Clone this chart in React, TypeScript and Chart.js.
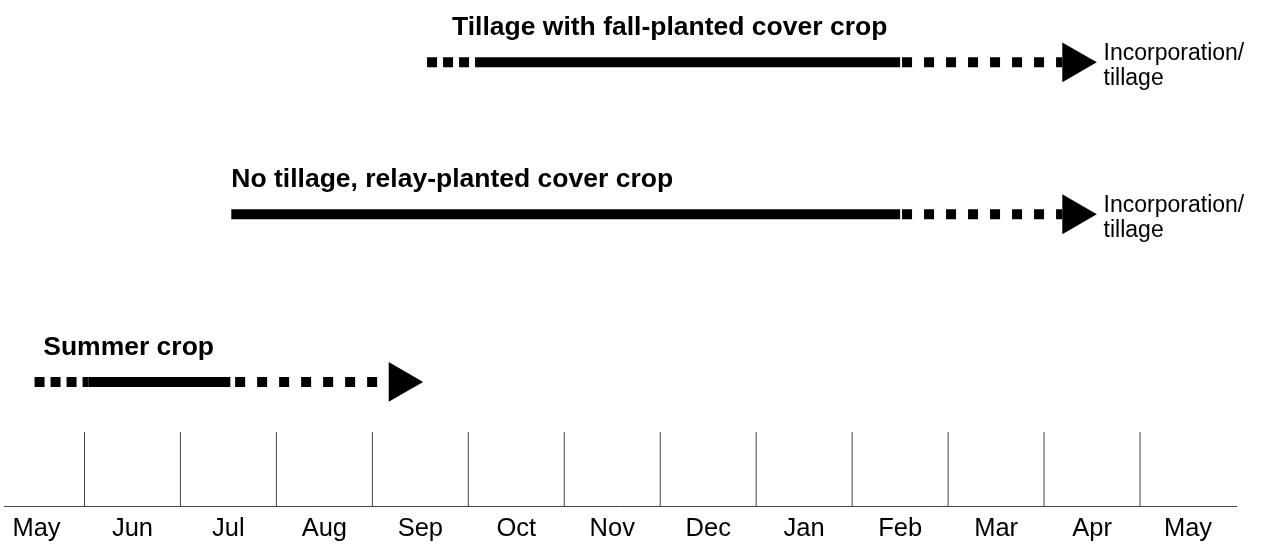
import React, { useEffect, useRef } from 'react';
import { Chart, registerables } from 'chart.js';

Chart.register(...registerables);

// Month labels along the timeline (each label sits in the middle of its month)
const months = ['May', 'Jun', 'Jul', 'Aug', 'Sep', 'Oct', 'Nov', 'Dec', 'Jan', 'Feb', 'Mar', 'Apr', 'May'];
// Month boundaries (months since 1 May) where the vertical tick marks stand
const monthBoundaries = [1, 2, 3, 4, 5, 6, 7, 8, 9, 10, 11, 12];

// Rows of the timeline (bottom to top)
const rowNames = ['Summer crop', 'No tillage, relay-planted cover crop', 'Tillage with fall-planted cover crop'];
const rowLevel = [2.46, 5.77, 8.77];
const titleStart = [0.57, 2.53, 4.83];
// Timing of each phase, in months since 1 May
const leadStart: (number | null)[] = [0.48, null, 4.57];
const solidStart = [1.04, 2.53, 5.09];
const solidEnd = [2.52, 9.5, 9.5];
const trailStart = [2.57, 9.52, 9.52];
const trailEnd = [4.17, 11.19, 11.19];
const arrowCenter = [4.29, 11.31, 11.31];
const endLabel: string[][] = [[], ['Incorporation/', 'tillage'], ['Incorporation/', 'tillage']];
const endLabelStart = [0, 11.62, 11.62];
const tickTop = 1.47;

const FONT = '"Liberation Sans", Arial, Helvetica, sans-serif';

export default function App() {
  const ref = useRef<HTMLCanvasElement | null>(null);

  useEffect(() => {
    if (!ref.current) return;
    const datasets: any[] = [];
    monthBoundaries.forEach((b) => {
      datasets.push({
        data: [{ x: b, y: 0 }, { x: b, y: tickTop }],
        showLine: true,
        borderColor: '#444',
        borderWidth: 1,
        pointRadius: 0,
      });
    });
    rowNames.forEach((_, i) => {
      const y = rowLevel[i];
      const ls = leadStart[i];
      if (ls !== null) {
        datasets.push({
          data: [{ x: ls, y }, { x: solidStart[i], y }],
          showLine: true,
          borderColor: '#000',
          borderWidth: 10,
          borderDash: [10, 6],
          borderCapStyle: 'butt',
          pointRadius: 0,
        });
      }
      datasets.push({
        data: [{ x: solidStart[i], y }, { x: solidEnd[i], y }],
        showLine: true,
        borderColor: '#000',
        borderWidth: 10,
        borderCapStyle: 'butt',
        pointRadius: 0,
      });
      datasets.push({
        data: [{ x: trailStart[i], y }, { x: trailEnd[i], y }],
        showLine: true,
        borderColor: '#000',
        borderWidth: 10,
        borderDash: [10, 12],
        borderCapStyle: 'butt',
        pointRadius: 0,
      });
      datasets.push({
        data: [{ x: arrowCenter[i], y }],
        showLine: false,
        pointStyle: 'triangle',
        pointRotation: 90,
        pointRadius: 23,
        pointBackgroundColor: '#000',
        pointBorderWidth: 0,
        pointBorderColor: '#000',
      });
    });

    const textPlugin = {
      id: 'rowText',
      afterDatasetsDraw(chart: any) {
        const { ctx } = chart;
        const x = chart.scales.x;
        const y = chart.scales.y;
        ctx.save();
        ctx.fillStyle = '#000';
        ctx.textAlign = 'left';
        ctx.textBaseline = 'alphabetic';
        ctx.font = `bold 26.5px ${FONT}`;
        rowNames.forEach((name, i) => {
          ctx.fillText(name, x.getPixelForValue(titleStart[i]), y.getPixelForValue(rowLevel[i]) - 27);
        });
        ctx.font = `23px ${FONT}`;
        endLabel.forEach((lines, i) => {
          lines.forEach((ln, j) => {
            ctx.fillText(ln, x.getPixelForValue(endLabelStart[i]), y.getPixelForValue(rowLevel[i]) - 2 + j * 25);
          });
        });
        ctx.restore();
      },
    };

    const chart = new Chart(ref.current, {
      type: 'scatter',
      data: { datasets },
      plugins: [textPlugin],
      options: {
        animation: false,
        responsive: true,
        maintainAspectRatio: false,
        layout: { autoPadding: false, padding: { left: 4.5, right: 27, top: 0, bottom: 0 } },
        clip: false as any,
        plugins: { legend: { display: false }, tooltip: { enabled: false } },
        scales: {
          x: {
            type: 'linear',
            min: 1 / 6,
            max: 13,
            afterBuildTicks: (scale: any) => {
              scale.ticks = months.map((_, i) => ({ value: i + 0.5 }));
            },
            afterFit: (scale: any) => {
              scale.paddingLeft = 0;
              scale.paddingRight = 0;
              scale.height = 37.5;
            },
            ticks: {
              autoSkip: false,
              maxRotation: 0,
              padding: 7,
              color: '#000',
              font: { family: FONT, size: 25.5 },
              callback: (v: any) => months[Math.round(Number(v) - 0.5)] ?? '',
            },
            grid: { display: false, drawTicks: false, tickLength: 0 },
            border: { display: true, color: '#444', width: 1 },
          },
          y: {
            type: 'linear',
            display: false,
            min: 0,
            max: 10,
          },
        },
      },
    });
    return () => chart.destroy();
  }, []);

  return (
    <div style={{ position: 'fixed', left: 0, top: 0, width: 1263, height: 544, background: '#fff' }}>
      <canvas ref={ref} />
    </div>
  );
}
